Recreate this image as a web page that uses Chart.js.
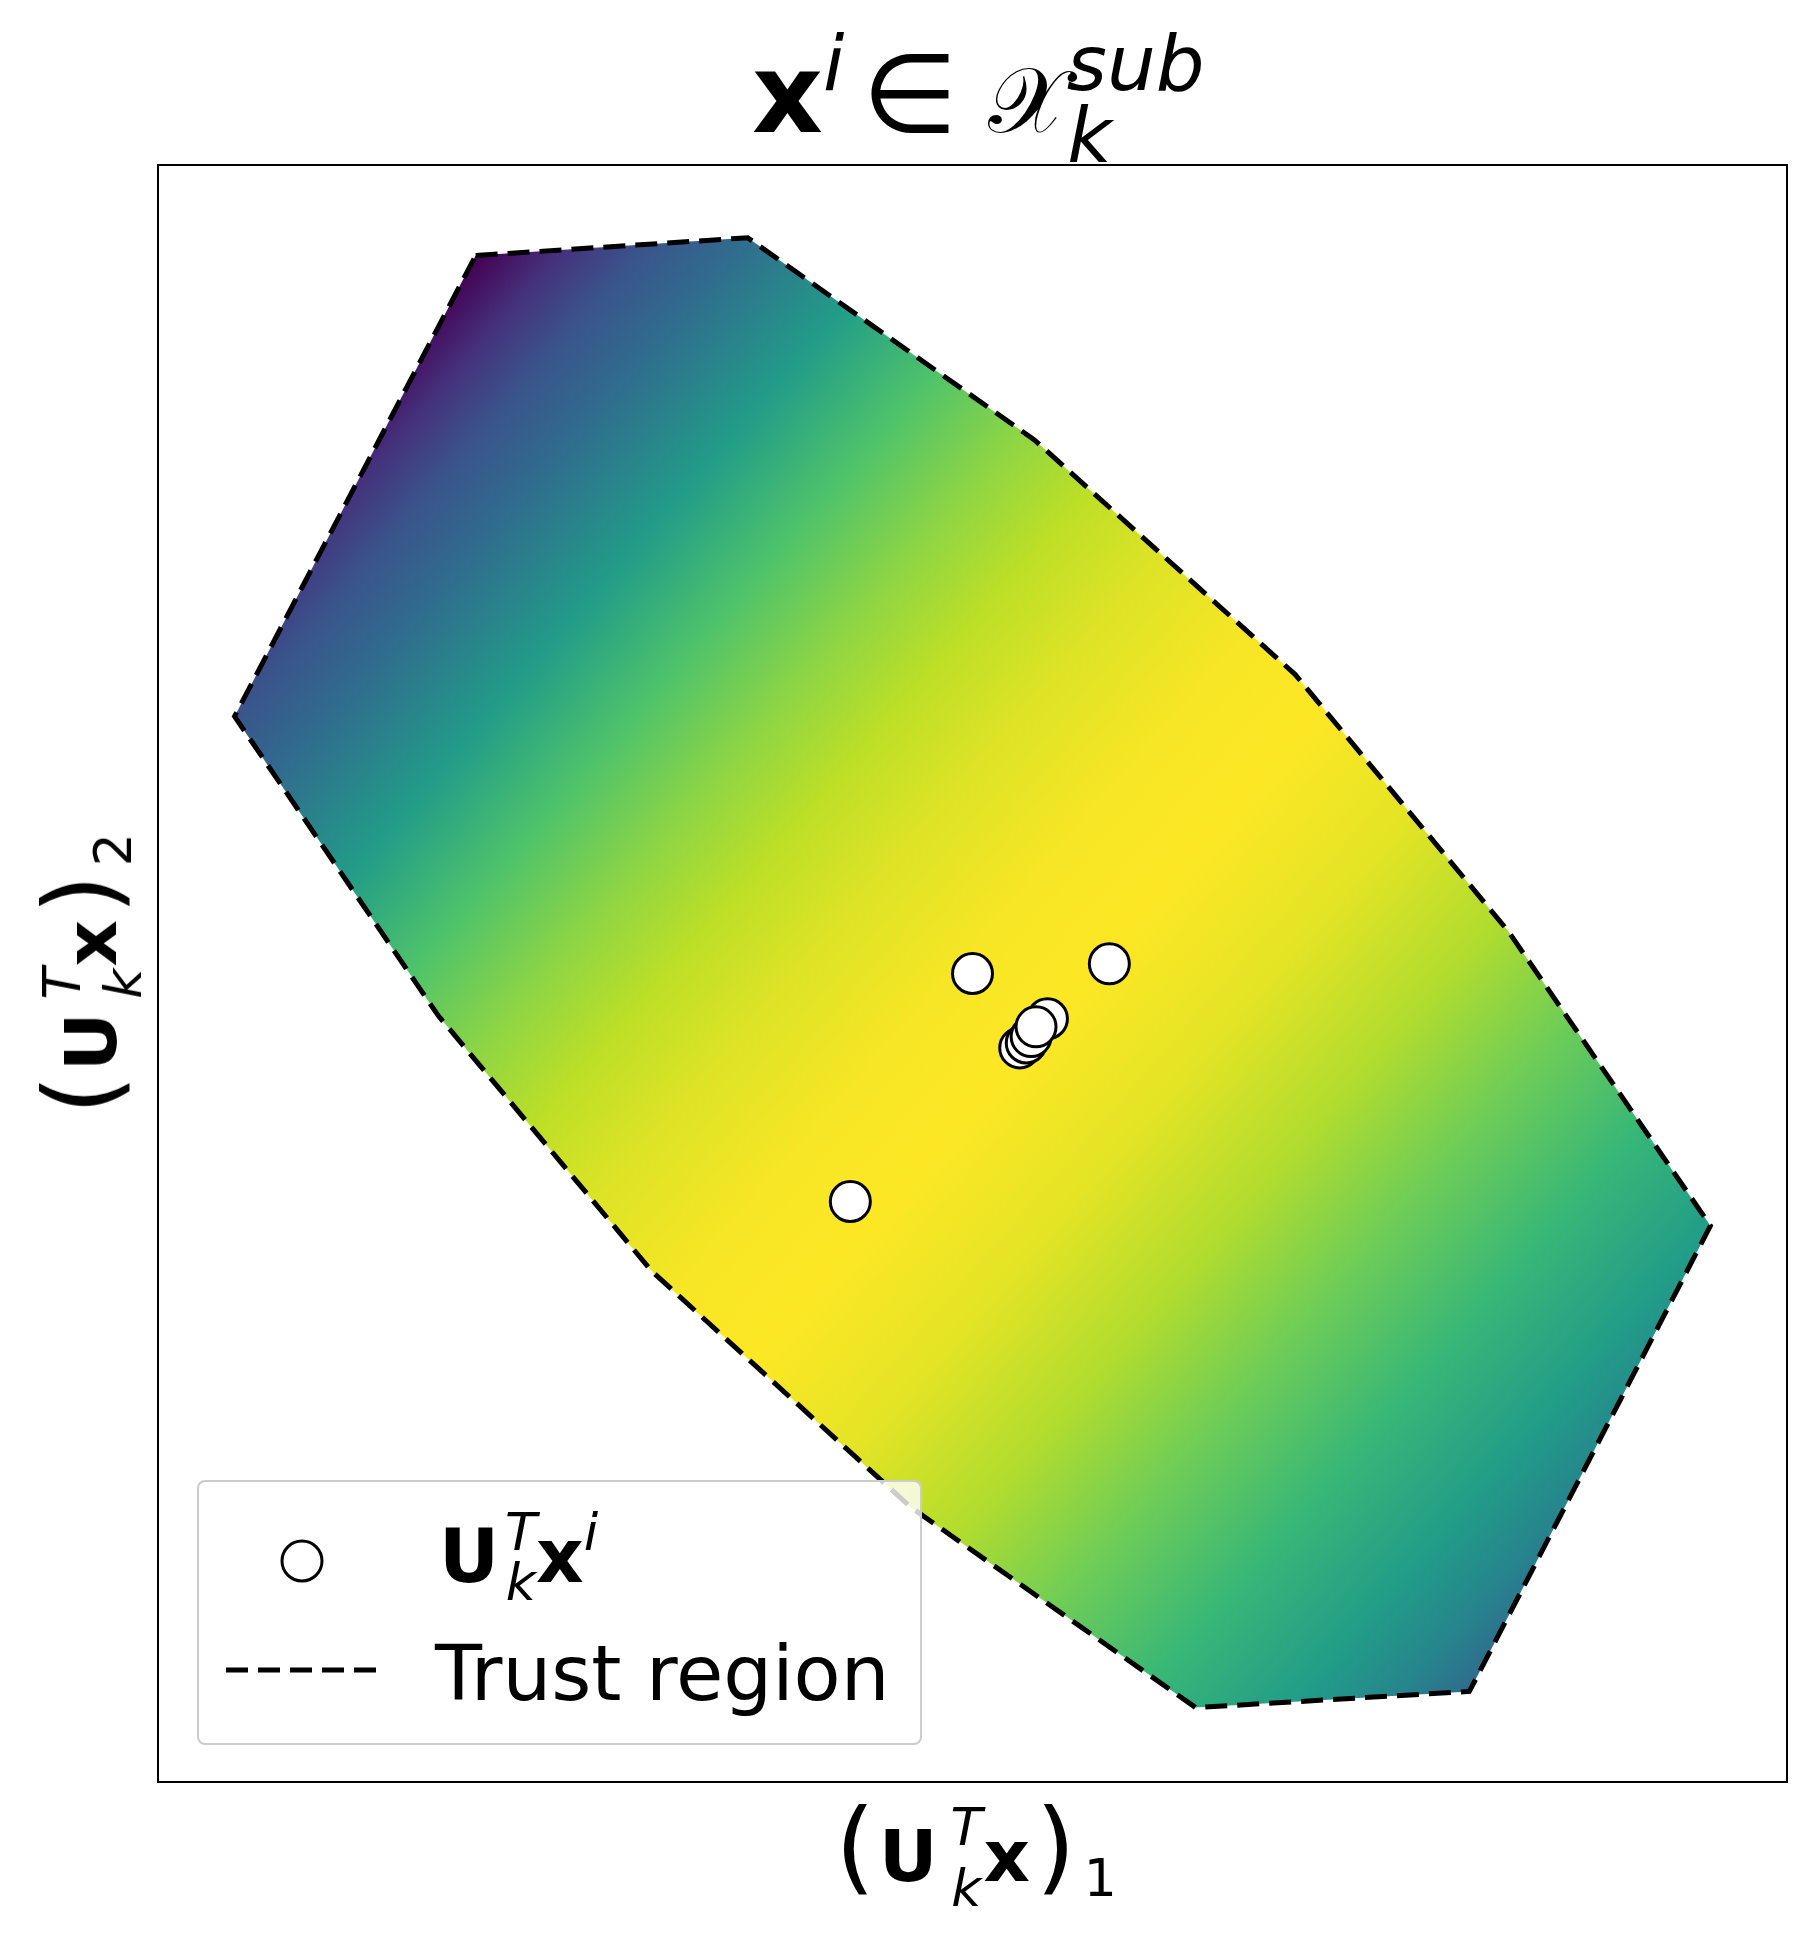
<!DOCTYPE html>
<html>
<head>
<meta charset="utf-8">
<script src="https://cdn.jsdelivr.net/npm/chart.js@4"></script>
<style>
  body { margin: 0; background: #fff; }
  #page { position: relative; width: 1816px; height: 1941px; font-family: 'DejaVu Sans', sans-serif; color: #000; }
  #chart { position: absolute; left: 0; top: 0; }
  .txt { position: absolute; line-height: 1; white-space: nowrap; }
  .bf { font-weight: bold; }
  .sc { position: relative; font-style: italic; line-height: 0; }
  .par { font-size: 102px; line-height: 0; }
  .cal { font-size: 92px; line-height: 0; font-family: 'DejaVu Sans', 'DejaVu Serif', 'Noto Sans', serif; }
  #legend { position: absolute; left: 197px; top: 1480px; width: 721px; height: 261px;
    border: 2px solid #cccccc; border-radius: 8px; background: rgba(255,255,255,0.8); }
</style>
</head>
<body>
<div id="page">
  <canvas id="chart" width="1816" height="1941"></canvas>

  <div id="title" class="txt" style="font-size:110px; left:752px; top:39px">
    <span class="bf">x</span><span class="sc" style="font-size:77px; top:-42px; margin-right:18px">i</span>∈<span class="cal" style="margin-left:30px">𝒳</span><span class="sc" style="font-size:77px; top:30px; margin-right:-45px">k</span><span class="sc" style="font-size:77px; top:-42px">sub</span>
  </div>

  <div id="xlabel" class="txt" style="font-size:72px; left:976px; top:1820px; transform:translateX(-50%)">
    <span class="par" style="margin-right:4px">(</span><span class="bf">U</span><span class="sc" style="font-size:52px; top:-36px; margin-left:13px; margin-right:-31px">T</span><span class="sc" style="font-size:52px; top:25px">k</span><span class="bf" style="margin-left:2px">x</span><span class="par" style="margin-left:6px">)</span><span class="sc" style="font-style:normal; font-size:52px; top:15px; margin-left:8px">1</span>
  </div>

  <div id="ylabel" class="txt" style="font-size:72px; left:55px; top:974px; transform-origin:0 0; transform:rotate(-90deg) translateX(-50%)">
    <span class="par" style="margin-right:4px">(</span><span class="bf">U</span><span class="sc" style="font-size:52px; top:-36px; margin-left:13px; margin-right:-31px">T</span><span class="sc" style="font-size:52px; top:25px">k</span><span class="bf" style="margin-left:2px">x</span><span class="par" style="margin-left:6px">)</span><span class="sc" style="font-style:normal; font-size:52px; top:15px; margin-left:8px">2</span>
  </div>

  <div id="legend"></div>
  <svg style="position:absolute; left:0; top:0" width="1816" height="1941">
    <circle cx="302" cy="1561" r="20" fill="#fff" stroke="#000" stroke-width="3"/>
    <line x1="226" y1="1670" x2="376" y2="1670" stroke="#000" stroke-width="5" stroke-dasharray="22 10"/>
  </svg>
  <div class="txt" style="font-size:74px; left:439px; top:1519px">
    <span class="bf">U</span><span class="sc" style="font-size:52px; top:-32px; margin-left:6px; margin-right:-31px">T</span><span class="sc" style="font-size:52px; top:18px">k</span><span class="bf">x</span><span class="sc" style="font-size:52px; top:-32px">i</span>
  </div>
  <div class="txt" style="font-size:77px; left:435px; top:1635px">Trust region</div>
</div>

<script>
// trust region polygon vertices (projected coordinates, clockwise from top-left)
const polyX = [0.195, 0.362, 0.538, 0.698, 0.829, 0.953, 0.805, 0.637, 0.462, 0.303, 0.172, 0.047]
const polyY = [0.944, 0.955, 0.830, 0.685, 0.526, 0.344, 0.056, 0.046, 0.170, 0.316, 0.474, 0.659]

// projected samples U_k^T x^i
const ptsX = [0.500, 0.584, 0.425, 0.546, 0.529, 0.533, 0.536, 0.539]
const ptsY = [0.500, 0.506, 0.359, 0.472, 0.454, 0.457, 0.461, 0.467]

// objective shading read along the gradient direction (position on line -> colormap value)
const shadeFrom = [0.196, 0.944]
const shadeTo = [0.983, 0.253]
const shadeT = [0, 0.035, 0.070, 0.112, 0.184, 0.248, 0.308, 0.362, 0.417, 0.490, 0.548, 0.631, 0.709, 0.778, 0.854, 0.921, 0.964, 1]
const shadeV = [0, 0.14, 0.26, 0.35, 0.55, 0.72, 0.83, 0.90, 0.95, 0.99, 1.0, 0.96, 0.88, 0.78, 0.66, 0.55, 0.45, 0.33]

const viridisStops = ['#440154', '#482475', '#414487', '#355f8d', '#2a788e', '#21918c',
  '#22a884', '#44bf70', '#7ad151', '#bddf26', '#fde725']

function hex(c) {
  return [1, 3, 5].map(i => parseInt(c.slice(i, i + 2), 16))
}

function viridis(v) {
  const p = Math.max(0, Math.min(1, v)) * 10
  const i = Math.min(9, Math.floor(p))
  const f = p - i
  const a = hex(viridisStops[i]), b = hex(viridisStops[i + 1])
  const rgb = a.map((c, k) => Math.round(c + (b[k] - c) * f))
  return `rgb(${rgb.join(',')})`
}

function shade(c) {
  const chart = c.chart
  const { x, y } = chart.scales
  if (!chart.chartArea || !x || !y) return 'rgba(0,0,0,0)'
  const g = chart.ctx.createLinearGradient(
    x.getPixelForValue(shadeFrom[0]), y.getPixelForValue(shadeFrom[1]),
    x.getPixelForValue(shadeTo[0]), y.getPixelForValue(shadeTo[1]))
  shadeT.forEach((t, i) => g.addColorStop(t, viridis(shadeV[i])))
  return g
}

const frame = {
  id: 'frame',
  afterDatasetsDraw(chart) {
    const { ctx, chartArea: a } = chart
    ctx.save()
    ctx.strokeStyle = '#000'
    ctx.lineWidth = 2
    ctx.strokeRect(a.left, a.top, a.right - a.left, a.bottom - a.top)
    ctx.restore()
  }
}

const polygon = polyX.map((x, i) => ({ x, y: polyY[i] }))
polygon.push(polygon[0])

new Chart(document.getElementById('chart'), {
  type: 'scatter',
  data: {
    datasets: [
      {
        label: 'samples',
        data: ptsX.map((x, i) => ({ x, y: ptsY[i] })),
        pointRadius: 20,
        pointBackgroundColor: '#ffffff',
        pointBorderColor: '#000000',
        pointBorderWidth: 3,
        showLine: false
      },
      {
        label: 'Trust region',
        data: polygon,
        showLine: true,
        fill: 'shape',
        backgroundColor: shade,
        borderColor: '#000000',
        borderWidth: 5,
        borderDash: [22, 10],
        pointRadius: 0,
        tension: 0
      }
    ]
  },
  options: {
    responsive: false,
    animation: false,
    events: [],
    layout: { padding: { left: 158, top: 165, right: 29, bottom: 159 } },
    scales: {
      x: { type: 'linear', min: 0, max: 1, display: false },
      y: { type: 'linear', min: 0, max: 1, display: false }
    },
    plugins: {
      legend: { display: false },
      tooltip: { enabled: false }
    }
  },
  plugins: [frame]
})
</script>
</body>
</html>
